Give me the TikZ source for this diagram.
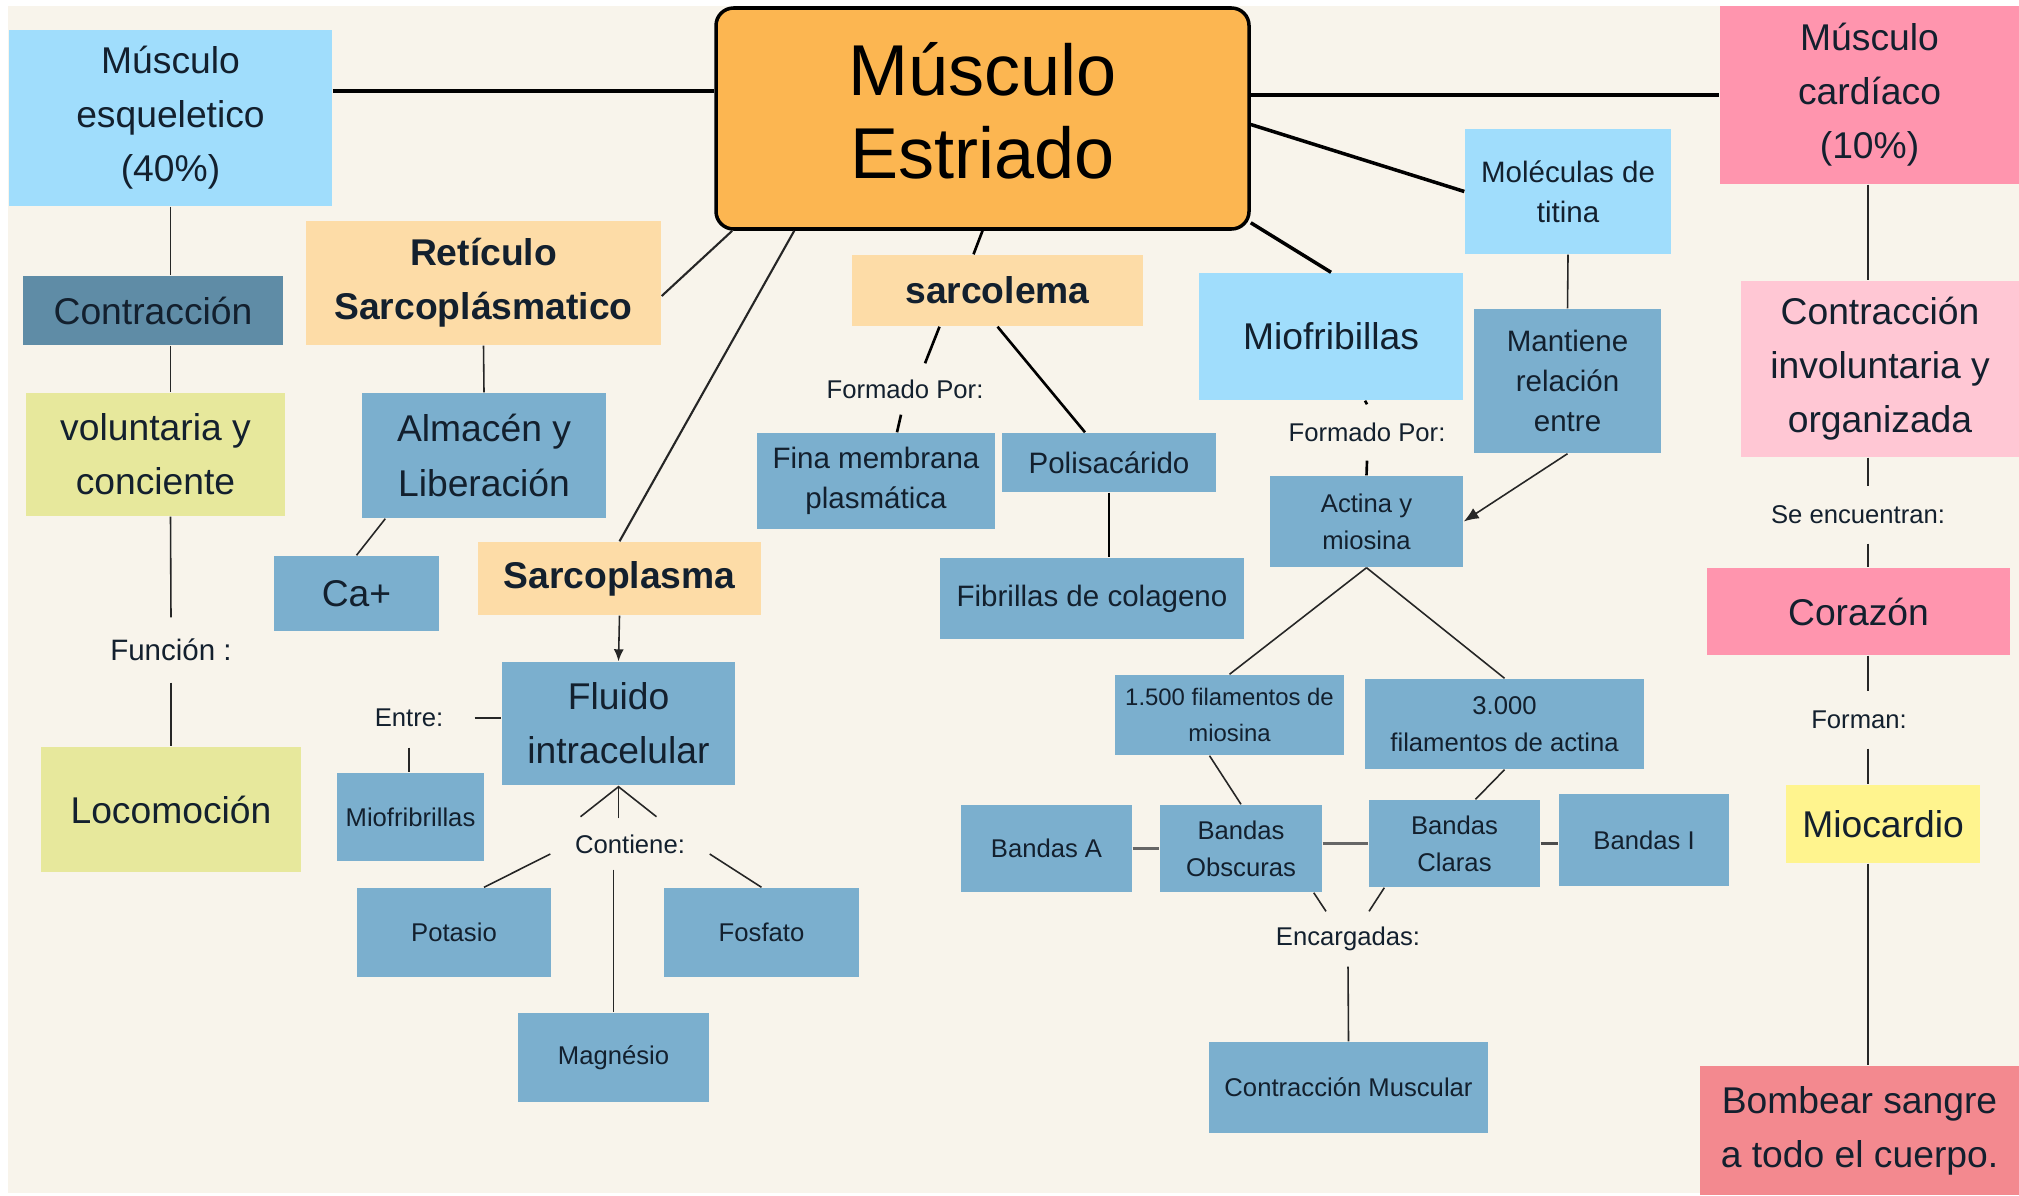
\documentclass[tikz,border=0pt]{standalone}
\usepackage{fontspec}
\setmainfont{Liberation Sans}
\usetikzlibrary{arrows.meta,calc}
\definecolor{bgcream}{HTML}{F8F4EB}
\definecolor{ink}{HTML}{13202E}
\definecolor{skyblue}{HTML}{A0DDFC}
\definecolor{steel}{HTML}{7BAFCE}
\definecolor{darksteel}{HTML}{5F8CA6}
\definecolor{lime}{HTML}{E7E89C}
\definecolor{peach}{HTML}{FDDCA7}
\definecolor{core}{HTML}{FCB651}
\definecolor{rose}{HTML}{FF95AE}
\definecolor{blush}{HTML}{FFC7D4}
\definecolor{lemon}{HTML}{FFF48E}
\definecolor{salmon}{HTML}{F3898F}
\newcommand{\fhuge}{\fontsize{20.5}{23.5}\selectfont}
\newcommand{\fbig}{\fontsize{10.6}{15.4}\selectfont}
\newcommand{\fmid}{\fontsize{8.4}{11.5}\selectfont}
\newcommand{\fsmall}{\fontsize{7.3}{10.6}\selectfont}
\tikzset{box/.style={rectangle,inner sep=0pt,align=center,text=ink,font=\fbig},bluebox/.style={box,fill=steel},skybox/.style={box,fill=skyblue},peachbox/.style={box,fill=peach,font=\fbig\bfseries},lbl/.style={inner sep=0pt,text=ink,font=\fsmall},sz/.style 2 args={minimum width=#1cm,minimum height=#2cm},link/.style={draw=black!85,line width=0.45pt},mid/.style={draw=black,line width=0.75pt},heavy/.style={draw=black,line width=1pt}}

\begin{document}
\begin{tikzpicture}
\fill[white] (0,0) rectangle (20.19,-11.95);
\fill[bgcream] (0.08,-0.06) rectangle (20.19,-11.93);
\useasboundingbox (0,0) rectangle (20.19,-11.95);
\coordinate (spine) at (18.68,0);
\node[box,fill=core,draw=black,line width=1pt,rounded corners=5pt,font=\fhuge,text=black,text depth=0.16cm,sz={5.33}{2.21}] (cent) at (9.825,-1.185) {Músculo\\Estriado};
\node[skybox,sz={3.23}{1.76}] (esq) at (1.705,-1.18) {Músculo\\esqueletico\\(40\%)};
\node[box,fill=darksteel,sz={2.60}{0.69}] (contr) at (1.53,-3.105) {Contracción};
\node[box,fill=lime,sz={2.59}{1.23}] (volun) at (1.555,-4.545) {voluntaria y\\conciente};
\node[lbl,font=\fmid,sz={1.4}{0.64}] (func) at (1.71,-6.5) {Función :};
\node[box,fill=lime,sz={2.60}{1.25}] (locom) at (1.71,-8.095) {Locomoción};
\node[peachbox,sz={3.55}{1.24}] (retic) at (4.835,-2.83) {Retículo\\Sarcoplásmatico};
\node[bluebox,sz={2.44}{1.25}] (almac) at (4.84,-4.555) {Almacén y\\Liberación};
\node[bluebox,sz={1.65}{0.75}] (ca) at (3.565,-5.935) {Ca+};
\node[peachbox,sz={2.83}{0.73}] (sarcop) at (6.195,-5.785) {Sarcoplasma};
\node[bluebox,sz={2.33}{1.23}] (fluido) at (6.185,-7.235) {Fluido\\intracelular};
\node[lbl,sz={1.3}{0.58}] (entre) at (4.09,-7.18) {Entre:};
\node[bluebox,font=\fsmall,sz={1.47}{0.88}] (miofs) at (4.105,-8.17) {Miofribrillas};
\node[lbl,sz={1.58}{0.5}] (contiene) at (6.30,-8.44) {Contiene:};
\node[bluebox,font=\fsmall,sz={1.94}{0.89}] (potasio) at (4.54,-9.325) {Potasio};
\node[bluebox,font=\fsmall,sz={1.95}{0.89}] (fosfato) at (7.615,-9.325) {Fosfato};
\node[bluebox,font=\fsmall,sz={1.91}{0.89}] (magnes) at (6.135,-10.575) {Magnésio};
\node[peachbox,sz={2.91}{0.71}] (sarcol) at (9.975,-2.905) {sarcolema};
\node[lbl,sz={1.6}{0.5}] (form1) at (9.05,-3.89) {Formado Por:};
\node[bluebox,font=\fmid,sz={2.38}{0.96}] (fina) at (8.76,-4.81) {Fina membrana\\plasmática};
\node[bluebox,font=\fmid,sz={2.14}{0.59}] (polis) at (11.09,-4.625) {Polisacárido};
\node[bluebox,font=\fmid,sz={3.04}{0.81}] (fibr) at (10.92,-5.985) {Fibrillas de colageno};
\node[skybox,sz={2.64}{1.27}] (miofb) at (13.31,-3.365) {Miofribillas};
\node[lbl,sz={1.6}{0.55}] (form2) at (13.67,-4.325) {Formado Por:};
\node[skybox,font=\fmid,sz={2.06}{1.25}] (titina) at (15.68,-1.915) {Moléculas de\\titina};
\node[bluebox,font=\fmid,sz={1.87}{1.44}] (mant) at (15.675,-3.81) {Mantiene\\relación\\entre};
\node[bluebox,font=\fsmall,sz={1.93}{0.91}] (actina) at (13.665,-5.215) {Actina y\\miosina};
\node[bluebox,font=\fontsize{6.8}{10.3}\selectfont,sz={2.29}{0.80}] (fil15) at (12.295,-7.15) {1.500 filamentos de\\miosina};
\node[bluebox,font=\fsmall,sz={2.79}{0.90}] (fil3) at (15.045,-7.24) {3.000\\filamentos de actina};
\node[bluebox,font=\fsmall,sz={1.71}{0.87}] (bandA) at (10.465,-8.485) {Bandas A};
\node[bluebox,font=\fsmall,sz={1.62}{0.87}] (bandO) at (12.41,-8.485) {Bandas\\Obscuras};
\node[bluebox,font=\fsmall,sz={1.71}{0.87}] (bandC) at (14.545,-8.435) {Bandas\\Claras};
\node[bluebox,font=\fsmall,sz={1.70}{0.92}] (bandI) at (16.44,-8.40) {Bandas I};
\node[lbl,sz={1.6}{0.54}] (encarg) at (13.48,-9.39) {Encargadas:};
\node[bluebox,font=\fsmall,sz={2.79}{0.91}] (cmusc) at (13.485,-10.875) {Contracción Muscular};
\node[box,fill=rose,sz={2.99}{1.78}] (card) at (18.695,-0.95) {Músculo\\cardíaco\\(10\%)};
\node[box,fill=blush,sz={2.78}{1.76}] (invol) at (18.80,-3.69) {Contracción\\involuntaria y\\organizada};
\node[lbl,sz={1.8}{0.56}] (seenc) at (18.58,-5.15) {Se encuentran:};
\node[box,fill=rose,sz={3.03}{0.87}] (coraz) at (18.585,-6.115) {Corazón};
\node[lbl,sz={1.2}{0.56}] (forman) at (18.59,-7.20) {Forman:};
\node[box,fill=lemon,sz={1.94}{0.78}] (mioc) at (18.83,-8.24) {Miocardio};
\node[box,fill=salmon,sz={3.19}{1.29}] (bomb) at (18.595,-11.305) {Bombear sangre\\a todo el cuerpo.};
\draw[heavy] ([yshift=2.7mm]esq.east) -- ([yshift=2.7mm]esq.east -| cent.west);
\draw[heavy] (cent.east |- card.west) -- (card.west);
\draw[link,line width=0.6pt] ([xshift=1.8mm]cent.south west) -- ([yshift=-1.3mm]retic.east);
\draw[link,line width=0.6pt] ([xshift=8mm]cent.south west) -- (sarcop.north);
\draw[mid] (cent.south) -- ([xshift=-2.4mm]sarcol.north);
\draw[heavy] ([yshift=0.8mm]cent.south east) -- (miofb.north);
\draw[heavy] ([yshift=-0.6mm]cent.east) -- (titina.west);
\draw[link] (esq.south) -- (esq.south |- contr.north);
\draw[link] (esq.south |- contr.south) -- (esq.south |- volun.north);
\draw[link] (esq.south |- volun.south) -- (func.north);
\draw[link] (func.south) -- (func.south |- locom.north);
\draw[link] (retic.south) -- (almac.north);
\draw[link] ([xshift=2.4mm]almac.south west) -- (ca.north);
\draw[link,-{Latex[length=1.2mm,width=1mm]}] (sarcop.south) -- (fluido.north);
\draw[link] (entre.east) -- (entre.east -| fluido.west);
\draw[link] (entre.south) -- (entre.south |- miofs.north);
\draw[link,-{Straight Barb[length=3mm,width=7.6mm]}] (contiene.north -| fluido.south) -- (fluido.south);
\draw[link] ([yshift=-1mm]contiene.west) -- ([xshift=3mm]potasio.north);
\draw[link] ([yshift=-1mm]contiene.east) -- (fosfato.north);
\draw[link] (contiene.south -| magnes.north) -- (magnes.north);
\draw[mid] ([xshift=-5.8mm]sarcol.south) -- ([xshift=2mm]form1.north);
\draw[mid] ([xshift=-0.4mm]form1.south) -- ([xshift=2.1mm]fina.north);
\draw[mid] (sarcol.south) -- ([xshift=-2.4mm]polis.north);
\draw[mid] (polis.south) -- (polis.south |- fibr.north);
\draw[mid] ([xshift=3.4mm]miofb.south) -- (form2.north);
\draw[mid] (form2.south) -- (actina.north);
\draw[link] (titina.south) -- (mant.north);
\draw[link,-{Latex[length=1.5mm,width=1.2mm]}] (mant.south) -- (actina.east);
\draw[link] (actina.south) -- (fil15.north);
\draw[link] (actina.south) -- (fil3.north);
\draw[link] ([xshift=-2mm]fil15.south) -- (bandO.north);
\draw[link] (fil3.south) -- ([xshift=2.1mm]bandC.north);
\draw[link,line width=0.75pt,draw=black!60] (bandA.east) -- (bandO.west);
\draw[link,line width=0.75pt,draw=black!60] (bandC.west -| bandO.east) -- (bandC.west);
\draw[link,line width=0.75pt,draw=black!70] (bandC.east) -- (bandC.east -| bandI.west);
\draw[link] ([xshift=-0.9mm]bandO.south east) -- ([xshift=-2.2mm]encarg.north);
\draw[link] ([xshift=1.6mm]bandC.south west) -- ([xshift=2.1mm]encarg.north);
\draw[link] (encarg.south) -- (cmusc.north);
\draw[link] (spine |- card.south) -- (spine |- invol.north);
\draw[link] (spine |- invol.south) -- (spine |- seenc.north);
\draw[link] (spine |- seenc.south) -- (spine |- coraz.north);
\draw[link] (spine |- coraz.south) -- (spine |- forman.north);
\draw[link] (spine |- forman.south) -- (spine |- mioc.north);
\draw[link] (spine |- mioc.south) -- (spine |- bomb.north);
\end{tikzpicture}
\end{document}
